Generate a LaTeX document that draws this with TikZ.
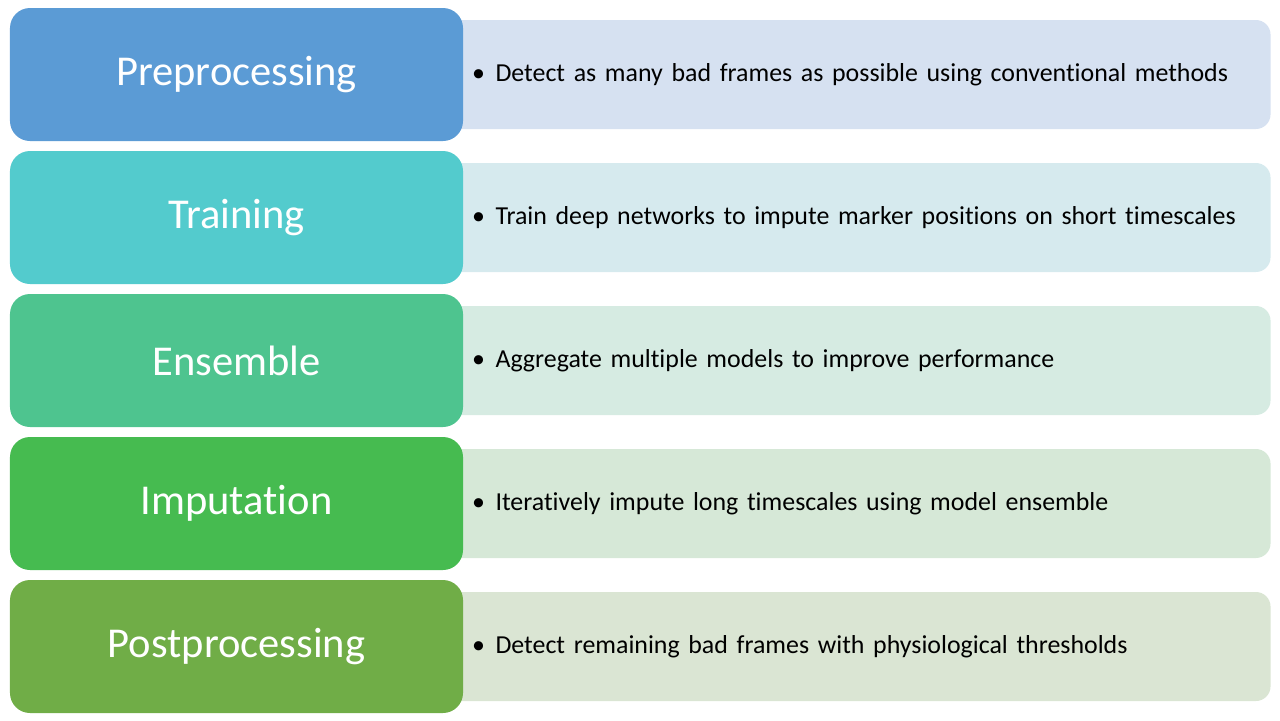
\documentclass[tikz,border=0pt]{standalone}
\usepackage{fontspec}
\setmainfont{Carlito}[Ligatures={NoCommon}]
\usepackage{tikz}
\usetikzlibrary{positioning,backgrounds}
\definecolor{azulpre}{RGB}{91,155,213}
\definecolor{cianotre}{RGB}{83,203,205}
\definecolor{verdeens}{RGB}{78,196,143}
\definecolor{verdeimp}{RGB}{70,187,80}
\definecolor{verdepos}{RGB}{112,173,71}
\definecolor{azulclaro}{RGB}{214,225,241}
\definecolor{cianoclaro}{RGB}{214,234,238}
\definecolor{ensclaro}{RGB}{214,235,226}
\definecolor{impclaro}{RGB}{214,232,215}
\definecolor{posclaro}{RGB}{218,229,211}

\begin{document}
\begin{tikzpicture}[
	x=0.75bp, y=-0.75bp,
	node distance=7.1bp,
	etapa/.style={rectangle, rounded corners=15bp, minimum width=339.75bp, minimum height=99.75bp, inner sep=0pt, text=white, font=\fontsize{32}{38}\selectfont},
	detalhe/.style={rectangle, rounded corners=11bp, minimum width=622.5bp, minimum height=81.75bp, inner xsep=23bp, text width=575bp, align=left, font=\fontsize{19.5}{23}\selectfont},
]
\useasboundingbox (0,0) rectangle (1280,720);
\node[etapa, fill=azulpre] (pre) at (236.5,74.5) {Preprocessing};
\node[etapa, fill=cianotre] (tre) [below=of pre] {Training};
\node[etapa, fill=verdeens] (ens) [below=of tre] {Ensemble};
\node[etapa, fill=verdeimp] (imp) [below=of ens] {Imputation};
\node[etapa, fill=verdepos] (pos) [below=of imp] {Postprocessing};

\begin{scope}[on background layer]
\node[detalhe, fill=azulclaro] (preTxt) [right=-17.25bp of pre] {\makebox[17.5bp][l]{\textbullet}Detect as many bad frames as possible using conventional methods};
\node[detalhe, fill=cianoclaro] (treTxt) [right=-17.25bp of tre] {\makebox[17.5bp][l]{\textbullet}Train deep networks to impute marker positions on short timescales};
\node[detalhe, fill=ensclaro] (ensTxt) [right=-17.25bp of ens] {\makebox[17.5bp][l]{\textbullet}Aggregate multiple models to improve performance};
\node[detalhe, fill=impclaro] (impTxt) [right=-17.25bp of imp] {\makebox[17.5bp][l]{\textbullet}Iteratively impute long timescales using model ensemble};
\node[detalhe, fill=posclaro] (posTxt) [right=-17.25bp of pos] {\makebox[17.5bp][l]{\textbullet}Detect remaining bad frames with physiological thresholds};
\end{scope}
\end{tikzpicture}
\end{document}
